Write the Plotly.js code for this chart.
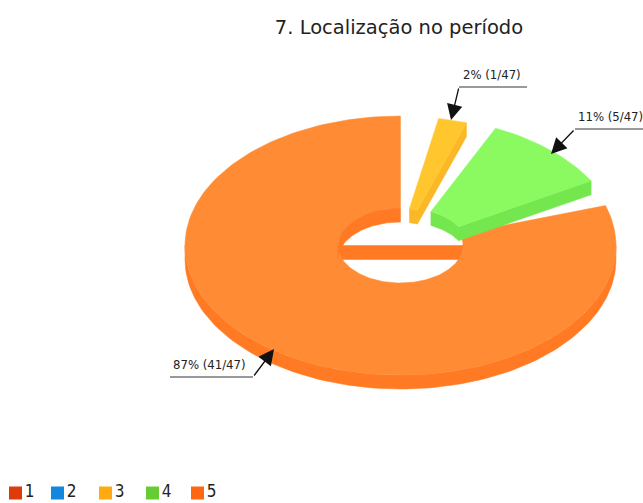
<!DOCTYPE html>
<html><head><meta charset="utf-8">
<script src="https://cdn.plot.ly/plotly-3.0.1.min.js"></script>
<style>html,body{margin:0;padding:0;background:#fff}#c{width:643px;height:503px}</style>
</head><body><div id="c"></div>
<script>
const categories = ['1','2','3','4','5'];
const counts = [0,0,1,5,41];
const legendColors = ['#dd3c0a','#1187dd','#ffaa11','#66cc33','#ff6611'];
const faceColors = ['#dd3c0a','#1187dd','#ffc62e','#8afa60','#ff8c35'];
const wallColors = ['#dd3c0a','#1187dd','#fab826','#74e64e','#ff7a22'];
const title = '7. Localização no período';
// chart geometry (pie view)
const cx=400.5, cy=245.5, Rx=215.5, Ry=129.5, rx=62.5, ry=37.5, depth=14;
const startAngle=11;
const sweepScale=[1,1,1,0.914,0.917];
const gapAfter=[0,0,6.34,12,0];
const offsetX=[0,0,-3,4,0];
const legendSwatchX=[15.5,57.5,105.5,152.5,197.5];
const legendY=493;
const total=counts.reduce((a,b)=>a+b,0);
const rad=d=>d*Math.PI/180;
function arc(a,b,RX,RY,dx,dy){const n=Math.max(2,Math.ceil(Math.abs(b-a)/1.5));const xs=[],ys=[];
  for(let i=0;i<=n;i++){const t=rad(a+(b-a)*i/n);xs.push(cx+dx+RX*Math.sin(t));ys.push(cy+dy-RY*Math.cos(t));}return [xs,ys];}
function poly(parts,color,name){const x=[],y=[];parts.forEach(p=>{x.push(...p[0]);y.push(...p[1]);});x.push(x[0]);y.push(y[0]);
  return {type:'scatter',mode:'lines',x,y,fill:'toself',fillcolor:color,line:{color:color,width:0.5},showlegend:false,hoverinfo:'skip',name};}
const rev=p=>[[...p[0]].reverse(),[...p[1]].reverse()];
const traces=[];
let ang=startAngle;const spans=[];
counts.forEach((v,i)=>{const s=v/total*360*sweepScale[i];spans.push([ang,ang+s]);ang+=s+gapAfter[i];});
// main slice (5)
{const i=4,[a,b]=spans[i];
 const o=arc(a,b,Rx,Ry,0,0);
 traces.push(poly([arc(90,270,Rx,Ry,0,depth),rev(arc(90,270,Rx,Ry,0,0))],wallColors[i]));
 traces.push(poly([o,rev(arc(a,b,rx,ry,0,0))],faceColors[i]));
 // inner wall at the back of the hole
 traces.push(poly([arc(270,360,rx,ry,0,0),rev(arc(270,360,rx,ry,0,depth))],wallColors[i]));
 // band crossing the hole
 const bx=[],by=[];
 for(let k=0;k<=14;k++){const y=k;bx.push(cx+rx*Math.sqrt(1-(y/ry)**2));by.push(cy+y);}
 for(let k=14;k>=0;k--){const y=k;bx.push(cx-rx*Math.sqrt(1-(y/ry)**2));by.push(cy+y);}
 traces.push(poly([[bx,by]],wallColors[i]));
}
// separated slices
[3,2].forEach(i=>{const [a,b]=spans[i],dx=offsetX[i];
 traces.push(poly([arc(b,a,rx,ry,dx,0),arc(a,b,rx,ry,dx,depth),arc(b,b,Rx,Ry,dx,depth),arc(b,b,Rx,Ry,dx,0)],wallColors[i]));
 traces.push(poly([arc(a,b,Rx,Ry,dx,0),arc(b,a,rx,ry,dx,0)],faceColors[i]));
});
// leaders
const leaders=[{i:2,x:[527,459],y:87,tip:[451,120],tx:461,ty:74},
               {i:3,x:[643,575],y:129,tip:[551,154],tx:576,ty:116},
               {i:4,x:[170,253],y:377,tip:[274,349],tx:171,ty:364}];
leaders.forEach(l=>traces.push({type:'scatter',mode:'lines',x:l.x,y:[l.y,l.y],line:{color:'#777',width:1.3},showlegend:false,hoverinfo:'skip'}));
// legend row
categories.forEach((c,i)=>traces.push({type:'scatter',mode:'markers+text',x:[legendSwatchX[i]],y:[legendY],name:c,
  text:[c],textposition:'middle right',textfont:{family:'"Liberation Sans Narrow","DejaVu Sans Condensed",sans-serif',size:17,color:'#222'},
  marker:{symbol:'square',size:13,color:legendColors[i]},hoverinfo:'skip',showlegend:false}));
const annotations=[];
leaders.forEach(l=>{
 annotations.push({x:l.tip[0],y:l.tip[1],ax:l.x[1],ay:l.y,axref:'x',ayref:'y',xref:'x',yref:'y',text:'',showarrow:true,arrowhead:2,arrowsize:2.4,arrowwidth:1.3,arrowcolor:'#111'});
 annotations.push({x:l.tx,y:l.ty,xref:'x',yref:'y',xanchor:'left',yanchor:'middle',showarrow:false,
   text:Math.round(counts[l.i]/total*100)+'% ('+counts[l.i]+'/'+total+')',font:{family:'"Liberation Sans Narrow","DejaVu Sans Condensed",sans-serif',size:13,color:'#222'}});
});
const layout={width:643,height:503,margin:{l:0,r:0,t:0,b:0},paper_bgcolor:'#fff',plot_bgcolor:'#fff',
 title:{text:title,font:{family:'"DejaVu Sans",sans-serif',size:19.5,color:'#222'},x:399/643,xanchor:'center',y:1-27/503,yanchor:'middle'},
 xaxis:{range:[0,643],visible:false,fixedrange:true},
 yaxis:{range:[503,0],visible:false,fixedrange:true},
 showlegend:false,
 annotations};
Plotly.newPlot('c',traces,layout,{displayModeBar:false,staticPlot:true});
</script></body></html>
